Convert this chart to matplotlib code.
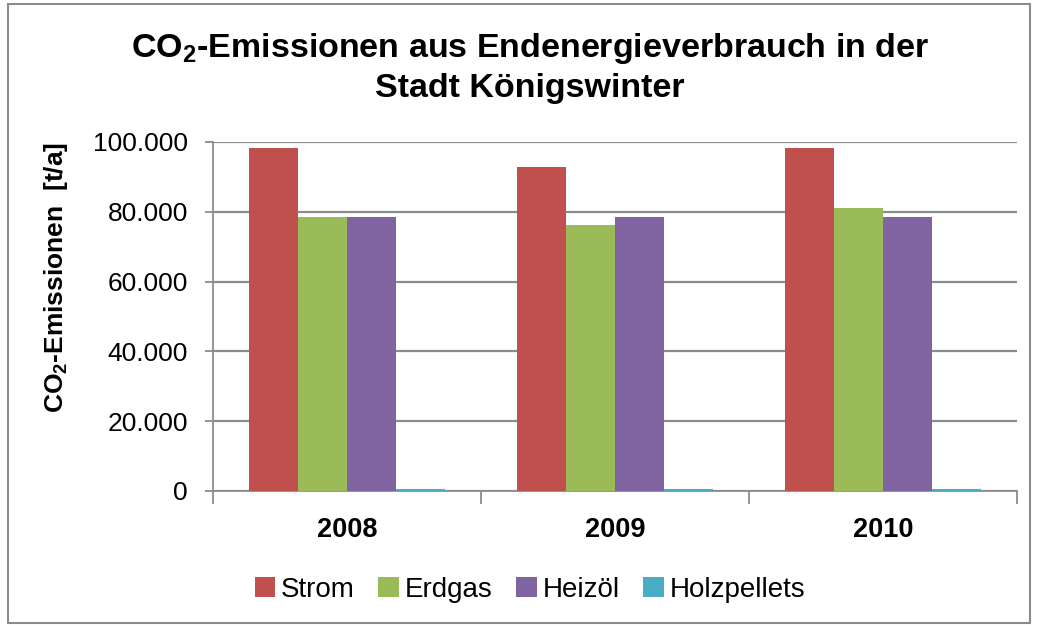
import matplotlib
matplotlib.use("Agg")
import matplotlib.pyplot as plt
import numpy as np
from matplotlib.ticker import FuncFormatter, FixedLocator
from matplotlib.patches import Rectangle

years = ["2008", "2009", "2010"]
series = ["Strom", "Erdgas", "Heizöl", "Holzpellets"]
strom = [98400, 92800, 98400]
erdgas = [78500, 76100, 81000]
heizoel = [78500, 78500, 78500]
holzpellets = [700, 700, 700]
colors = ["#C0504D", "#9BBB59", "#8064A2", "#4BACC6"]

plt.rcParams['font.family'] = ['Liberation Sans', 'DejaVu Sans']
plt.rcParams['mathtext.fontset'] = 'custom'
plt.rcParams['mathtext.rm'] = 'Liberation Sans'
plt.rcParams['mathtext.bf'] = 'Liberation Sans:bold'

fig = plt.figure(figsize=(10.38, 6.25), dpi=100)
ax = fig.add_axes([213/1038, 1 - 491/625, (1017-213)/1038, (491-142)/625])

x = np.arange(len(years))
w = 0.182
data = [strom, erdgas, heizoel, holzpellets]
for i, (name, vals) in enumerate(zip(series, data)):
    ax.bar(x + (i - 1.5) * w, vals, width=w, color=colors[i], label=name,
           zorder=3, edgecolor='none')

ax.set_xlim(-0.5, 2.5)
ax.set_ylim(0, 100000)
ax.yaxis.set_major_locator(FixedLocator([0, 20000, 40000, 60000, 80000, 100000]))
ax.yaxis.set_major_formatter(FuncFormatter(lambda v, p: f"{int(v):,}".replace(",", ".")))
ax.grid(axis='y', color='#8C8C8C', linewidth=1.6, zorder=0)
ax.set_axisbelow(True)

ax.set_xticks([-0.5, 0.5, 1.5, 2.5])
ax.set_xticklabels([])
ax.set_xticks(x, minor=True)
ax.set_xticklabels(years, minor=True, fontsize=19.5, fontweight='bold')
ax.tick_params(axis='x', which='major', length=9, width=1.3, color='#8C8C8C', direction='out')
ax.tick_params(axis='x', which='minor', length=0, pad=19)
ax.tick_params(axis='y', length=6, width=1.3, color='#8C8C8C', direction='out', labelsize=19, pad=12)

for s in ['top', 'right']:
    ax.spines[s].set_visible(False)
for s in ['left', 'bottom']:
    ax.spines[s].set_color('#8C8C8C')
    ax.spines[s].set_linewidth(1.3)

fig.text(56/1038, 1 - 277/625, r"CO$_\mathbf{2}$-Emissionen  [t/a]", rotation=90,
         fontsize=19, fontweight='bold', ha='center', va='center')

fig.text(530/1038, 1 - 48/625, r"CO$_\mathbf{2}$-Emissionen aus Endenergieverbrauch in der",
         fontsize=24.5, fontweight='bold', ha='center', va='center')
fig.text(530/1038, 1 - 88/625, "Stadt Königswinter",
         fontsize=24.5, fontweight='bold', ha='center', va='center')

leg = fig.legend(loc='center', bbox_to_anchor=(530/1038, 1 - 590/625), ncol=4,
                 frameon=False, fontsize=20, handlelength=0.75, handleheight=0.75,
                 handletextpad=0.2, columnspacing=0.85)

fig.patches.append(Rectangle((8/1038, 2/625), 1022/1038, 619/625, transform=fig.transFigure,
                             fill=False, edgecolor='#8C8C8C', linewidth=1.5))

fig.savefig("out.png", dpi=100)
